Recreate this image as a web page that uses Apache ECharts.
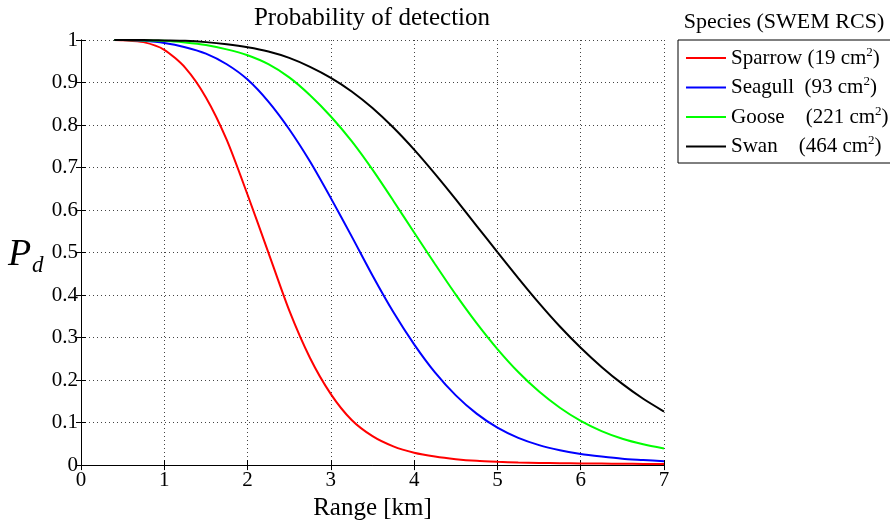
<!DOCTYPE html>
<html>
<head>
<meta charset="utf-8">
<script src="https://cdn.jsdelivr.net/npm/echarts@6/dist/echarts.min.js"></script>
<style>html,body{margin:0;padding:0;background:#fff}#c{width:890px;height:526px}</style>
</head>
<body>
<div id="c"></div>
<script>
var rangeKm = [0.4, 0.5, 0.75, 1, 1.25, 1.5, 1.75, 2, 2.25, 2.5, 2.75, 3, 3.25, 3.5, 3.75, 4, 4.25, 4.5, 4.75, 5, 5.25, 5.5, 5.75, 6, 6.25, 6.5, 6.75, 7];
var sparrow = [1.0, 0.9995, 0.995, 0.977, 0.935, 0.865, 0.765, 0.636, 0.500, 0.364, 0.252, 0.167, 0.106, 0.068, 0.044, 0.029, 0.020, 0.014, 0.010, 0.0078, 0.0062, 0.0052, 0.0045, 0.004, 0.0035, 0.0031, 0.0028, 0.0025];
var seagull = [1.0, 1.0, 0.998, 0.993, 0.983, 0.968, 0.943, 0.907, 0.855, 0.790, 0.714, 0.628, 0.538, 0.446, 0.360, 0.284, 0.218, 0.164, 0.121, 0.088, 0.064, 0.047, 0.035, 0.026, 0.020, 0.015, 0.012, 0.009];
var goose = [1.0, 1.0, 0.999, 0.998, 0.994, 0.988, 0.978, 0.964, 0.943, 0.912, 0.870, 0.820, 0.762, 0.695, 0.622, 0.547, 0.473, 0.401, 0.334, 0.273, 0.219, 0.173, 0.135, 0.104, 0.080, 0.062, 0.049, 0.039];
var swan = [1.0, 1.0, 1.0, 0.999, 0.998, 0.995, 0.990, 0.983, 0.973, 0.958, 0.937, 0.911, 0.879, 0.840, 0.794, 0.742, 0.685, 0.625, 0.563, 0.501, 0.440, 0.381, 0.326, 0.276, 0.231, 0.191, 0.156, 0.126];
var seriesNames = ['Sparrow', 'Seagull', 'Goose', 'Swan'];
var legendLabels = ['Sparrow (19 cm', 'Seagull  (93 cm', 'Goose    (221 cm', 'Swan    (464 cm'];
var seriesColors = ['#ff0000', '#0000ff', '#00ff00', '#000000'];
var xTicks = {min: 0, max: 7, interval: 1};
var yTicks = {min: 0, max: 1, interval: 0.1};

var FONT = '"Liberation Serif", "Times New Roman", serif';
function pairs(vals) { return rangeKm.map(function (x, i) { return [x, vals[i]]; }); }
var allVals = [sparrow, seagull, goose, swan];

var chart = echarts.init(document.getElementById('c'), null, {renderer: 'canvas'});
var axisCommon = {
  axisLine: {show: true, lineStyle: {color: '#000', width: 1}},
  axisTick: {show: true, inside: true, length: 5, lineStyle: {color: '#000'}}
};
chart.setOption({
  animation: false,
  backgroundColor: '#fff',
  grid: {left: 81, top: 40, right: 226, bottom: 57, containLabel: false},
  xAxis: [
    Object.assign({type: 'value', position: 'bottom', min: xTicks.min, max: xTicks.max, interval: xTicks.interval,
      name: 'Range [km]', nameLocation: 'middle', nameGap: 27,
      nameTextStyle: {fontFamily: FONT, fontSize: 25, color: '#000'},
      axisLabel: {fontFamily: FONT, fontSize: 21, color: '#000', margin: 5},
      splitLine: {show: true, lineStyle: {color: '#444', type: [1, 3], width: 1}}}, axisCommon),
    Object.assign({type: 'value', position: 'top', min: xTicks.min, max: xTicks.max, interval: xTicks.interval,
      axisLabel: {show: false}, splitLine: {show: false}}, axisCommon)
  ],
  yAxis: [
    Object.assign({type: 'value', position: 'left', min: yTicks.min, max: yTicks.max, interval: yTicks.interval,
      axisLabel: {fontFamily: FONT, fontSize: 21, color: '#000', margin: 3},
      splitLine: {show: true, lineStyle: {color: '#444', type: [1, 3], width: 1}}}, axisCommon),
    Object.assign({type: 'value', position: 'right', min: yTicks.min, max: yTicks.max, interval: yTicks.interval,
      axisLabel: {show: false}, splitLine: {show: false}}, axisCommon)
  ],
  legend: {
    left: 678, top: 40, orient: 'vertical', align: 'left',
    padding: [6, 8, 6, 8], itemGap: 7, itemWidth: 40, itemHeight: 2,
    borderColor: '#000', borderWidth: 1, backgroundColor: '#fff',
    icon: 'path://M0,0L40,0L40,2L0,2Z',
    data: seriesNames,
    formatter: function (name) {
      var i = seriesNames.indexOf(name);
      return '{t|' + legendLabels[i] + '}{s|2}{t|)}';
    },
    textStyle: {
      fontFamily: FONT, fontSize: 21, color: '#000',
      rich: {
        t: {fontFamily: FONT, fontSize: 21, color: '#000', lineHeight: 24},
        s: {fontFamily: FONT, fontSize: 13, color: '#000', lineHeight: 13, verticalAlign: 'top'}
      }
    }
  },
  graphic: [
    {type: 'text', x: 372, y: 18, style: {text: 'Probability of detection', font: '25px ' + FONT, fill: '#000', align: 'center', verticalAlign: 'middle'}},
    {type: 'text', x: 784, y: 22, style: {text: 'Species (SWEM RCS)', font: '22px ' + FONT, fill: '#000', align: 'center', verticalAlign: 'middle'}},
    {type: 'text', x: 8, y: 255, style: {text: 'P', font: 'italic 38px ' + FONT, fill: '#000', align: 'left', verticalAlign: 'middle'}},
    {type: 'text', x: 32, y: 266, style: {text: 'd', font: 'italic 23px ' + FONT, fill: '#000', align: 'left', verticalAlign: 'middle'}}
  ],
  series: seriesNames.map(function (n, i) {
    return {
      name: n, type: 'line', xAxisIndex: 0, yAxisIndex: 0,
      data: pairs(allVals[i]), smooth: 0.25, showSymbol: false, symbol: 'none',
      lineStyle: {color: seriesColors[i], width: 2}, itemStyle: {color: seriesColors[i]},
      clip: true
    };
  })
});
</script>
</body>
</html>
